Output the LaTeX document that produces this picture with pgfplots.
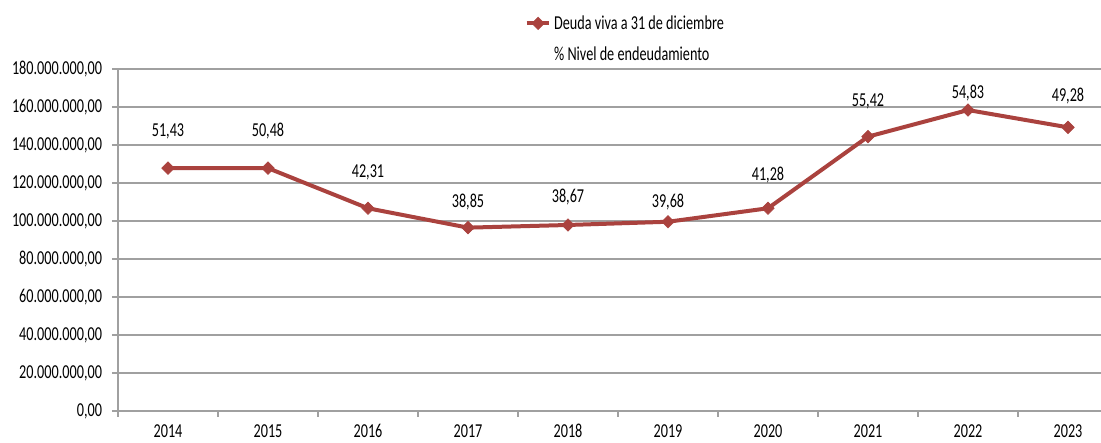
\documentclass[border=0pt]{standalone}
\usepackage{fontspec}
\setmainfont{Carlito}[FakeStretch=0.72]
\usepackage{pgfplots}
\pgfplotsset{compat=1.18}
\definecolor{linered}{RGB}{170,66,62}
\definecolor{gridgray}{RGB}{160,160,160}
\newcommand{\cf}{\fontsize{14.8}{17}\selectfont}
\begin{document}
\begin{tikzpicture}
\path[use as bounding box] (-88.5pt,-24pt) rectangle (737.25pt,308.25pt);
\begin{axis}[
  at={(0pt,0pt)}, anchor=south west,
  scale only axis, width=737.25pt, height=256.5pt,
  xmin=-0.5, xmax=9.33, ymin=0, ymax=180,
  axis x line=bottom, axis y line=left,
  axis line style={-, draw=gridgray, line width=1.1pt},
  ymajorgrids, grid style={draw=gridgray, line width=1.1pt},
  ytick={0,20,40,60,80,100,120,140,160,180},
  yticklabels={{0,00},{20.000.000,00},{40.000.000,00},{60.000.000,00},{80.000.000,00},{100.000.000,00},{120.000.000,00},{140.000.000,00},{160.000.000,00},{180.000.000,00}},
  xtick={-0.5,0.5,1.5,2.5,3.5,4.5,5.5,6.5,7.5,8.5},
  xticklabels={},
  extra x ticks={0,1,2,3,4,5,6,7,8,9},
  extra x tick labels={2014,2015,2016,2017,2018,2019,2020,2021,2022,2023},
  extra x tick style={major tick length=0pt, grid=none},
  tick align=outside, major tick length=4.5pt,
  tick style={draw=gridgray, line width=1.1pt},
  tick label style={font=\cf, text=black},
  xticklabel style={yshift=-6.5pt},
  yticklabel style={xshift=-4pt},
  clip=false,
  legend style={draw=none, fill=none, at={(0.4135,1.165)}, anchor=north west,
    font=\cf, row sep=8pt, inner sep=0pt, cells={anchor=west}},
  legend cell align=left,
]
\addplot[color=linered, line width=3pt, mark=square*, mark size=3.3pt,
  mark options={rotate=45, solid, fill=linered, line width=0.5pt}]
  coordinates {(0,127.8) (1,127.8) (2,106.7) (3,96.5) (4,97.9) (5,99.6) (6,106.7) (7,144.4) (8,158.4) (9,149.3)};
\addlegendentry{Deuda viva a 31 de diciembre}
\addplot[draw=none, mark=none, nodes near coords, point meta=explicit symbolic,
  legend image code/.code={},
  every node near coord/.style={anchor=center, font=\cf, text=black}]
  table[meta=lab] {
x y lab
0 147.4 51,43
1 147.4 50,48
2 125.8 42,31
3 110.2 38,85
4 112.8 38,67
5 110.2 39,68
6 124.2 41,28
7 162.8 55,42
8 167.2 54,83
9 165.8 49,28
};
\addlegendentry{\% Nivel de endeudamiento}
\end{axis}
\end{tikzpicture}
\end{document}
